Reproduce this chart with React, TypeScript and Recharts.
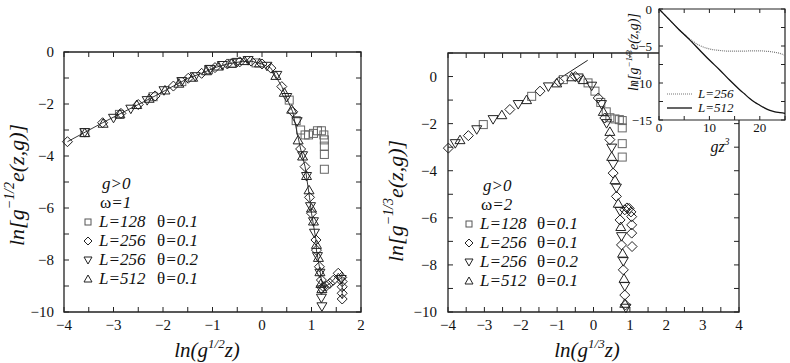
import React from "react";
import { ScatterChart, Scatter, XAxis, YAxis, ReferenceArea, LineChart, Line } from "recharts";

// ---- left panel (omega = 1) ----
const leftSqX = [-3.58, -2.88, -2.2, -1.62, -1.08, -0.6, -0.12, 0.55, 0.69, 0.78, 0.87, 0.94, 1.04, 1.12, 1.2, 1.25, 1.26, 1.26, 1.26, 1.26];
const leftSqY = [-3.1, -2.4, -1.72, -1.14, -0.68, -0.44, -0.42, -1.85, -2.64, -3.0, -3.19, -3.19, -3.13, -3.03, -3.03, -3.19, -3.38, -3.62, -3.94, -4.51];
const leftDiaX = [-3.93, -3.22, -2.85, -2.5, -2.16, -1.79, -1.49, -1.22, -0.95, -0.7, -0.45, -0.22, 0.0, 0.18, 0.4, 0.62, 0.78, 0.87, 0.96, 1.0, 1.09, 1.1, 1.16, 1.2, 1.24, 1.3, 1.37, 1.44, 1.54, 1.61, 1.62, 1.62, 1.62, 1.62];
const leftDiaY = [-3.45, -2.72, -2.36, -2.02, -1.69, -1.31, -1.01, -0.82, -0.6, -0.46, -0.38, -0.35, -0.46, -0.62, -1.33, -2.3, -3.73, -4.41, -5.59, -6.2, -7.23, -7.62, -8.26, -8.77, -9.03, -9.0, -8.9, -8.78, -8.51, -8.67, -8.83, -9.03, -9.28, -9.5];
const leftDnX = [-3.58, -3.0, -2.65, -2.32, -1.98, -1.62, -1.35, -1.05, -0.8, -0.5, -0.28, 0.1, 0.3, 0.5, 0.71, 0.82, 0.9, 0.98, 1.04, 1.06, 1.12, 1.17, 1.2, 1.2, 1.21, 1.6];
const leftDnY = [-3.1, -2.55, -2.2, -1.87, -1.49, -1.14, -0.95, -0.67, -0.52, -0.4, -0.33, -0.55, -0.9, -1.75, -2.68, -3.99, -4.79, -5.95, -6.53, -6.97, -7.87, -8.51, -9.15, -9.47, -9.8, -8.75];
const leftUpX = [-3.58, -3.21, -2.87, -2.53, -2.28, -1.96, -1.68, -1.4, -1.12, -0.88, -0.62, -0.35, -0.05, 0.28, 0.45, 0.6, 0.73, 0.82, 0.9, 0.95, 1.0, 1.04, 1.1, 1.14, 1.17, 1.19, 1.21];
const leftUpY = [-3.1, -2.74, -2.38, -2.02, -1.78, -1.46, -1.2, -0.97, -0.72, -0.54, -0.43, -0.33, -0.42, -0.9, -1.55, -2.2, -3.38, -4.0, -4.75, -5.3, -6.0, -6.5, -7.4, -7.9, -8.45, -8.9, -9.1];

// ---- right panel (omega = 2) ----
const rightSqX = [-3.03, -1.7, -0.83, -0.15, 0.04, 0.2, 0.35, 0.45, 0.59, 0.71, 0.79, 0.79, 0.79, 0.79];
const rightSqY = [-2.04, -0.84, -0.13, -0.27, -0.62, -1.1, -1.5, -1.75, -1.8, -1.83, -1.87, -2.18, -2.85, -3.42];
const rightDiaX = [-3.99, -3.44, -2.3, -1.47, -0.95, -0.5, 0.13, 0.31, 0.45, 0.54, 0.63, 0.73, 0.77, 0.82, 0.86, 0.88, 0.86, 0.92, 0.98, 1.03, 1.05, 1.05, 1.05, 1.06];
const rightDiaY = [-3.04, -2.51, -1.4, -0.62, -0.22, 0.0, -0.91, -1.76, -2.68, -4.1, -5.09, -6.09, -7.15, -8.21, -9.28, -9.7, -5.66, -5.58, -5.6, -5.75, -5.95, -6.3, -6.65, -7.22];
const rightDnX = [-3.8, -3.21, -2.76, -2.07, -1.24, -0.42, -0.05, 0.22, 0.36, 0.5, 0.54, 0.63, 0.73, 0.77, 0.82, 0.86, 0.89];
const rightDnY = [-2.85, -2.26, -1.83, -1.19, -0.44, -0.06, -0.41, -1.19, -2.0, -3.04, -3.74, -4.74, -5.73, -6.8, -7.86, -8.92, -9.84];
const rightUpX = [-3.67, -2.52, -1.84, -1.01, -0.6, -0.28, 0.27, 0.45, 0.5, 0.59, 0.68, 0.75, 0.8, 0.84, 0.86];
const rightUpY = [-2.68, -1.62, -0.98, -0.27, -0.01, -0.13, -1.48, -2.33, -3.39, -4.38, -5.38, -6.37, -7.5, -8.57, -9.63];
const tangentX = [-0.9, -0.16];
const tangentY = [-0.05, 0.69];

// ---- inset ----
const insetX = [0, 2, 4, 6, 8, 10, 12, 14, 16, 17, 18, 19, 20, 21, 22, 23, 24, 25];
const insetL256 = [0, -1.4, -2.8, -4.0, -4.9, -5.4, -5.6, -5.7, -5.7, -5.7, -5.65, -5.65, -5.65, -5.7, -5.75, -5.85, -6.0, -6.25];
const insetL512 = [0, -1.4, -2.8, -4.1, -5.5, -6.9, -8.2, -9.6, -10.9, -11.5, -12.1, -12.6, -13.0, -13.4, -13.7, -13.9, -14.0, -14.1];

const pts = (xs: number[], ys: number[]) => xs.map((x, i) => ({ x, y: ys[i] }));
const insetData = insetX.map((x, i) => ({ x, l256: insetL256[i], l512: insetL512[i] }));

const FONT = "'Liberation Serif', 'Times New Roman', Times, Tinos, 'Noto Serif', 'DejaVu Serif', serif";
const serif: React.CSSProperties = { fontFamily: FONT };
const INK = "#222";
const fmt = (v: number) => (v < 0 ? "\u2212" + Math.abs(v) : String(v));
const isMajor = (v: number, every: number) => Math.abs(v / every - Math.round(v / every)) < 1e-6;

const xTick = (far: number, every: number, size: number, gap: number, len: number) => (p: any) => {
  const v = p.payload.value;
  return (
    <g>
      <line x1={p.x} x2={p.x} y1={p.y} y2={p.y - len} stroke={INK} />
      <line x1={p.x} x2={p.x} y1={far} y2={far + len} stroke={INK} />
      {isMajor(v, every) && (
        <text x={p.x} y={p.y + gap} textAnchor="middle" style={serif} fontSize={size} fill="#111">
          {fmt(v)}
        </text>
      )}
    </g>
  );
};

const yTick = (far: number, every: number, size: number, gap: number, len: number) => (p: any) => {
  const v = p.payload.value;
  return (
    <g>
      <line x1={p.x} x2={p.x + len} y1={p.y} y2={p.y} stroke={INK} />
      <line x1={far} x2={far - len} y1={p.y} y2={p.y} stroke={INK} />
      {isMajor(v, every) && (
        <text x={p.x - gap} y={p.y + size * 0.35} textAnchor="end" style={serif} fontSize={size} fill="#111">
          {fmt(v)}
        </text>
      )}
    </g>
  );
};

// hollow markers
const square = (c: string, s = 4) => (p: any) => <rect x={p.cx - s} y={p.cy - s} width={2 * s} height={2 * s} fill="none" stroke={c} />;
const diamond = (c: string, s = 5) => (p: any) => (
  <path d={`M${p.cx},${p.cy - s}L${p.cx + s},${p.cy}L${p.cx},${p.cy + s}L${p.cx - s},${p.cy}Z`} fill="none" stroke={c} />
);
const triDown = (c: string, s = 5) => (p: any) => (
  <path d={`M${p.cx - s},${p.cy - s * 0.8}L${p.cx + s},${p.cy - s * 0.8}L${p.cx},${p.cy + s * 0.9}Z`} fill="none" stroke={c} />
);
const triUp = (c: string, s = 5) => (p: any) => (
  <path d={`M${p.cx - s},${p.cy + s * 0.8}L${p.cx + s},${p.cy + s * 0.8}L${p.cx},${p.cy - s * 0.9}Z`} fill="none" stroke={c} />
);
const noShape = () => <g />;

const range = (a: number, b: number, step: number) => {
  const out: number[] = [];
  for (let v = a; v <= b + 1e-9; v += step) out.push(Math.round(v * 100) / 100);
  return out;
};

const abs: React.CSSProperties = { position: "absolute", left: 0, top: 0 };

function LegendRows({ sx, tx, thx, rows, omega, gy, wy }: any) {
  const syms = [
    (x: number, y: number) => <rect x={x - 3} y={y - 3} width={6} height={6} fill="none" stroke="#555" />,
    (x: number, y: number) => <path d={`M${x},${y - 4}L${x + 4},${y}L${x},${y + 4}L${x - 4},${y}Z`} fill="none" stroke={INK} />,
    (x: number, y: number) => <path d={`M${x - 4},${y - 3}L${x + 4},${y - 3}L${x},${y + 4}Z`} fill="none" stroke={INK} />,
    (x: number, y: number) => <path d={`M${x - 4},${y + 3}L${x + 4},${y + 3}L${x},${y - 4}Z`} fill="none" stroke={INK} />,
  ];
  const labels = [["128", "0.1"], ["256", "0.1"], ["256", "0.2"], ["512", "0.1"]];
  return (
    <g style={serif} fontSize={17} fill="#111">
      <text x={tx + 3} y={gy + 5} fontStyle="italic">g&gt;0</text>
      <text x={tx + 1} y={wy + 5}>
        ω<tspan fontStyle="italic">={omega}</tspan>
      </text>
      {rows.map((y: number, i: number) => (
        <g key={i}>
          {syms[i](sx, y)}
          <text x={tx} y={y + 5} fontStyle="italic">L={labels[i][0]}</text>
          <text x={thx} y={y + 5}>
            θ<tspan fontStyle="italic">={labels[i][1]}</tspan>
          </text>
        </g>
      ))}
    </g>
  );
}

export default function App() {
  const W = 790;
  const H = 363;
  return (
    <div style={{ position: "absolute", left: 0, top: 0, width: W, height: H, background: "#fff", fontFamily: FONT }}>
      {/* left panel */}
      <div style={abs}>
        <ScatterChart width={W} height={H} margin={{ top: 52, right: 429, bottom: 21, left: 24 }}>
          <XAxis type="number" dataKey="x" domain={[-4, 2]} ticks={range(-4, 2, 0.5)} interval={0} height={30}
            axisLine={false} tickLine={false} tickSize={0} tickMargin={0} tick={xTick(52, 1, 15, 18, 5)} />
          <YAxis type="number" dataKey="y" domain={[-10, 0]} ticks={range(-10, 0, 1)} interval={0} width={40}
            axisLine={false} tickLine={false} tickSize={0} tickMargin={0} tick={yTick(361, 2, 15, 10, 5)} />
          <ReferenceArea x1={-4} x2={2} y1={-10} y2={0} fill="none" stroke={INK} strokeWidth={1.3} />
          <Scatter data={pts(leftSqX, leftSqY)} shape={square("#666")} isAnimationActive={false} />
          <Scatter data={pts(leftDiaX, leftDiaY)} shape={diamond(INK)} line={{ stroke: INK, strokeWidth: 0.9 }} isAnimationActive={false} />
          <Scatter data={pts(leftDnX, leftDnY)} shape={triDown(INK)} isAnimationActive={false} />
          <Scatter data={pts(leftUpX, leftUpY)} shape={triUp(INK)} isAnimationActive={false} />
        </ScatterChart>
      </div>

      {/* right panel */}
      <div style={abs}>
        <ScatterChart width={W} height={H} margin={{ top: 53, right: 51, bottom: 21, left: 408 }}>
          <XAxis type="number" dataKey="x" domain={[-4, 4]} ticks={range(-4, 4, 0.5)} interval={0} height={30}
            axisLine={false} tickLine={false} tickSize={0} tickMargin={0} tick={xTick(53, 1, 15, 18, 5)} />
          <YAxis type="number" dataKey="y" domain={[-10, 1]} ticks={range(-10, 1, 1)} interval={0} width={40}
            axisLine={false} tickLine={false} tickSize={0} tickMargin={0} tick={yTick(739, 2, 15, 11, 5)} />
          <ReferenceArea x1={-4} x2={4} y1={-10} y2={1} fill="none" stroke={INK} strokeWidth={1.3} />
          <Scatter data={pts(tangentX, tangentY)} shape={noShape} line={{ stroke: INK, strokeWidth: 1 }} isAnimationActive={false} />
          <Scatter data={pts(rightSqX, rightSqY)} shape={square("#666")} isAnimationActive={false} />
          <Scatter data={pts(rightDiaX, rightDiaY)} shape={diamond(INK)} isAnimationActive={false} />
          <Scatter data={pts(rightDnX, rightDnY)} shape={triDown(INK)} isAnimationActive={false} />
          <Scatter data={pts(rightUpX, rightUpY)} shape={triUp(INK)} isAnimationActive={false} />
        </ScatterChart>
      </div>

      {/* inset */}
      <div style={{ position: "absolute", left: 659, top: 9, width: 126, height: 111, background: "#fff" }} />
      <div style={abs}>
        <LineChart width={W} height={H} data={insetData} margin={{ top: 9, right: 5, bottom: 213, left: 629 }}>
          <XAxis type="number" dataKey="x" domain={[0, 25]} ticks={range(0, 25, 5)} interval={0} height={30}
            axisLine={false} tickLine={false} tickSize={0} tickMargin={0} tick={xTick(9, 10, 13, 12, 4)} />
          <YAxis type="number" domain={[-15, 0]} ticks={range(-15, 0, 2.5)} interval={0} width={30}
            axisLine={false} tickLine={false} tickSize={0} tickMargin={0} tick={yTick(785, 5, 13, 7, 4)} />
          <ReferenceArea x1={0} x2={25} y1={-15} y2={0} fill="none" stroke={INK} strokeWidth={1.2} />
          <Line type="monotone" dataKey="l256" stroke="#777" strokeWidth={1.2} strokeDasharray="1 1" dot={false} isAnimationActive={false} />
          <Line type="monotone" dataKey="l512" stroke="#111" strokeWidth={1.3} dot={false} isAnimationActive={false} />
        </LineChart>
      </div>

      {/* labels and legends */}
      <svg width={W} height={H} style={{ ...abs, pointerEvents: "none", fontFamily: FONT }}>
        <LegendRows sx={88} tx={99} thx={157} rows={[222, 241, 260, 279]} omega="1" gy={184} wy={203} />
        <LegendRows sx={469} tx={480} thx={537} rows={[224, 243, 262, 281]} omega="2" gy={186} wy={205} />

        <g style={serif} fontStyle="italic" fill="#111">
          <text x={207} y={357} fontSize={21} textAnchor="middle">
            ln(g<tspan fontSize={13} dy={-9}>1/2</tspan><tspan dy={9}>z)</tspan>
          </text>
          <text x={587} y={357} fontSize={21} textAnchor="middle">
            ln(g<tspan fontSize={13} dy={-9}>1/3</tspan><tspan dy={9}>z)</tspan>
          </text>
          <text x={24} y={185} fontSize={22} textAnchor="middle" transform="rotate(-90 24 185)">
            ln[g<tspan fontSize={14} dy={-10}>−1/2</tspan><tspan dy={10}>e(z,g)]</tspan>
          </text>
          <text x={403} y={201} fontSize={22} textAnchor="middle" transform="rotate(-90 403 201)">
            ln[g<tspan fontSize={14} dy={-10}>−1/3</tspan><tspan dy={10}>e(z,g)]</tspan>
          </text>
          <text x={638} y={52} fontSize={14} textAnchor="middle" transform="rotate(-90 638 52)">
            ln[g<tspan fontSize={9} dy={-6}>−1/3</tspan><tspan dy={6}>e(z,g)]</tspan>
          </text>
          <text x={720} y={152} fontSize={16} textAnchor="middle">
            gz<tspan fontSize={10} dy={-7}>3</tspan>
          </text>
          <line x1={667} x2={692} y1={94} y2={94} stroke="#777" strokeWidth={1.2} strokeDasharray="1 1" />
          <line x1={667} x2={692} y1={108} y2={108} stroke="#111" strokeWidth={1.3} />
          <text x={698} y={98} fontSize={13}>L=256</text>
          <text x={698} y={112} fontSize={13}>L=512</text>
        </g>
      </svg>
    </div>
  );
}
